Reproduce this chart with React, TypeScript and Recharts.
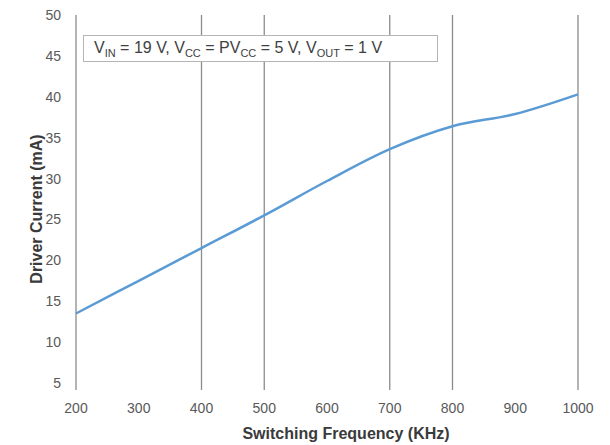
import { Line, LineChart, ReferenceLine, XAxis, YAxis } from 'recharts';

// Driver current vs switching frequency
const freqs = [200, 300, 400, 500, 600, 700, 800, 900, 1000];
const currents = [13.5, 17.5, 21.5, 25.5, 29.7, 33.6, 36.4, 37.9, 40.3];

// frequencies that carry a vertical grid line / tick mark in the original
const gridFreqs = [400, 500, 700, 800, 1000];
const markFreqs = [200, 400, 500, 700, 800, 1000];
const yTicks = [5, 10, 15, 20, 25, 30, 35, 40, 45, 50];

const data = freqs.map((freq, i) => ({ freq, current: currents[i] }));

const FONT = '"Liberation Sans", Arial, sans-serif';
const GRID = '#8c8c8c';

function FreqTick({ x, y, payload }: any) {
  const marked = markFreqs.includes(payload.value);
  return (
    <g>
      {marked && <line x1={x} x2={x} y1={y} y2={y + 7} stroke={GRID} strokeWidth={1.3} />}
      <text x={x} y={y + 30} textAnchor="middle" fontSize={14} fill="#595959" fontFamily={FONT}>
        {payload.value}
      </text>
    </g>
  );
}

export default function App() {
  return (
    <div style={{ position: 'absolute', left: 0, top: 0, width: 610, height: 445, background: '#fff' }}>
      <LineChart width={610} height={445} data={data} margin={{ top: 15, right: 32, left: 0, bottom: 0 }}>
        <XAxis
          type="number"
          dataKey="freq"
          domain={[200, 1000]}
          ticks={freqs}
          interval={0}
          height={62}
          axisLine={false}
          tickLine={false}
          tickSize={0}
          tickMargin={0}
          tick={<FreqTick />}
          label={{
            content: ({ viewBox }: any) => (
              <text
                x={viewBox.x + viewBox.width / 2 + 19}
                y={viewBox.y + 56}
                textAnchor="middle"
                fontSize={16}
                fontWeight="bold"
                fill="#3a3a3a"
                fontFamily={FONT}
              >
                Switching Frequency (KHz)
              </text>
            ),
          }}
        />
        <YAxis
          type="number"
          domain={[5, 50]}
          ticks={yTicks}
          interval={0}
          width={76}
          axisLine={{ stroke: GRID, strokeWidth: 1.3 }}
          tickLine={false}
          tickSize={13}
          tickMargin={2}
          tick={{ fontSize: 14, fill: '#595959', fontFamily: FONT }}
          label={{
            content: ({ viewBox }: any) => {
              const cx = 36;
              const cy = viewBox.y + viewBox.height / 2 + 10;
              return (
                <text
                  x={cx}
                  y={cy}
                  transform={`rotate(-90, ${cx}, ${cy})`}
                  textAnchor="middle"
                  dominantBaseline="central"
                  fontSize={16}
                  fontWeight="bold"
                  fill="#3a3a3a"
                  fontFamily={FONT}
                >
                  Driver Current (mA)
                </text>
              );
            },
          }}
        />
        {gridFreqs.map((f) => (
          <ReferenceLine key={f} x={f} stroke={GRID} strokeWidth={1.3} />
        ))}
        <Line
          type="monotone"
          dataKey="current"
          stroke="#5b9bd5"
          strokeWidth={2.5}
          dot={false}
          isAnimationActive={false}
        />
      </LineChart>
      <div
        style={{
          position: 'absolute',
          left: 83,
          top: 35,
          width: 355,
          height: 27,
          border: '1px solid #b5b5b5',
          background: '#fff',
          boxSizing: 'border-box',
          fontFamily: FONT,
          fontSize: 16,
          color: '#404040',
          paddingLeft: 10,
          lineHeight: '24px',
          whiteSpace: 'nowrap',
        }}
      >
        V<sub style={{ fontSize: 11 }}>IN</sub> = 19 V, V<sub style={{ fontSize: 11 }}>CC</sub> = PV
        <sub style={{ fontSize: 11 }}>CC</sub> = 5 V, V<sub style={{ fontSize: 11 }}>OUT</sub> = 1 V
      </div>
    </div>
  );
}
